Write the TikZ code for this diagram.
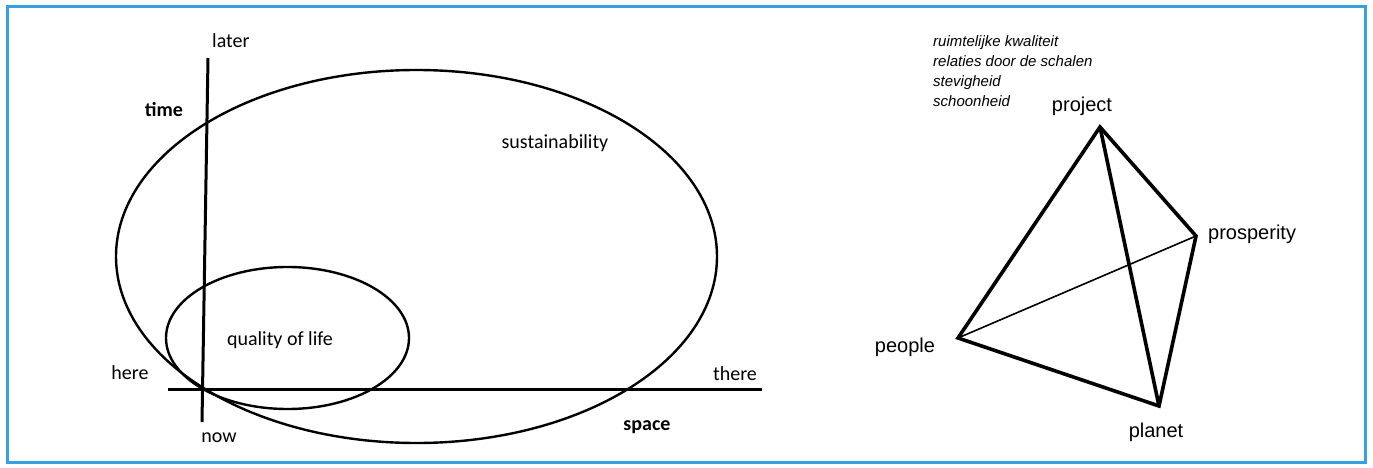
\documentclass[tikz,border=0pt]{standalone}
\usepackage{fontspec}
\newfontfamily\calfont{Carlito}
\newfontfamily\helvfont{Liberation Sans}
\definecolor{frameblue}{RGB}{55,160,222}

\begin{document}
\begin{tikzpicture}[x=1pt,y=-1pt,
  axis/.style={draw=black,line width=3pt},
  ring/.style={draw=black,line width=2.4pt},
  edge/.style={draw=black,line width=3.6pt,line cap=round},
  thinedge/.style={draw=black,line width=1.6pt},
  word/.style={font=\calfont\fontsize{20}{24}\selectfont,inner sep=0pt},
  strong/.style={font=\calfont\bfseries\fontsize{20}{24}\selectfont,inner sep=0pt},
  tag/.style={font=\helvfont\fontsize{20}{24}\selectfont,inner sep=0pt},
  note/.style={font=\helvfont\itshape\fontsize{15}{20}\selectfont,inner sep=0pt,align=left},
]

\useasboundingbox (0,0) rectangle (1373,468);
\draw[frameblue,line width=3pt] (7,7) rectangle (1365,462);

% time / space axes
\coordinate (later end) at (208,58);
\coordinate (now end) at (202,422);
\coordinate (here end) at (168,389);
\coordinate (there end) at (762,389);
\draw[axis] (later end) -- (now end);
\draw[axis] (here end) -- (there end);

\draw[ring] (416.5,256.5) ellipse [x radius=300.5,y radius=186.5];
\draw[ring] (287.5,338) ellipse [x radius=121.5,y radius=71];

\node[word,anchor=west] (later) at (212,41) {later};
\node[strong] (time) at (164,110) {time};
\node[word] (here) at (130,373) {here};
\node[word] (there) at (735,374) {there};
\node[word] (now) at (219,438) {now};
\node[strong] (space) at (647,427) {space};
\node[word] (sust) at (555,143) {sustainability};
\node[word] (qol) at (280,340) {quality of life};

% tetrahedron
\node[note,anchor=north west] (values) at (933,35)
  {ruimtelijke kwaliteit\\relaties door de schalen\\stevigheid\\schoonheid};

\coordinate (project) at (1100,127);
\coordinate (prosperity) at (1196,236);
\coordinate (people) at (958,338);
\coordinate (planet) at (1159,406);

\draw[thinedge] (people) -- (prosperity);
\draw[edge] (project) -- (people) -- (planet) -- (prosperity) -- cycle;
\draw[edge] (project) -- (planet);

\node[tag] (project label) at (1082,106) {project};
\node[tag,anchor=west] (prosperity label) at (1208,234) {prosperity};
\node[tag] (people label) at (905,347) {people};
\node[tag] (planet label) at (1156,432) {planet};

\end{tikzpicture}
\end{document}
